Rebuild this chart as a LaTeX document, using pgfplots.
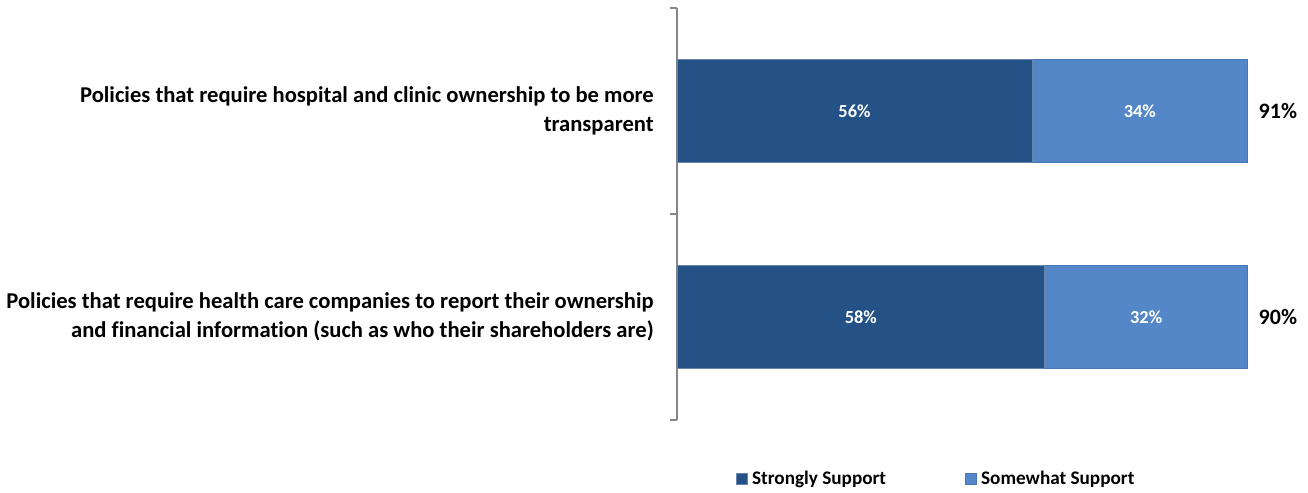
\documentclass[border=0pt]{standalone}
\usepackage{pgfplots}
\pgfplotsset{compat=1.18}
\usepackage{pgfplotstable}
\usepackage{fontspec}
\setmainfont{Carlito}[Ligatures=NoCommon]
\definecolor{darkblue}{RGB}{37,82,134}
\definecolor{lightblue}{RGB}{84,135,200}
\definecolor{axisgray}{RGB}{134,134,134}

\pgfplotstableread{
c v lab
0 58 58
1 56 56
}\strongly
\pgfplotstableread{
c v lab
0 32 32
1 34 34
}\somewhat
\pgfplotstableread{
c v lab
0 0.01 90
1 0.01 91
}\totals

\begin{document}
\begin{tikzpicture}[font=\bfseries]
\useasboundingbox (0,0) rectangle (654pt,246.5pt);
\begin{axis}[
  at={(338.5pt,36.5pt)}, anchor=south west,
  scale only axis, width=317pt, height=206pt,
  xbar stacked, bar width=0.5,
  xmin=0, xmax=100, enlarge x limits=false,
  ymin=-0.5, ymax=1.5,
  axis x line=none,
  axis y line=left,
  y axis line style={-, draw=axisgray, line width=0.6pt},
  xtick=\empty,
  ytick={0,1},
  yticklabels={{Policies that require health care companies to report their ownership\\and financial information (such as who their shareholders are)},
               {Policies that require hospital and clinic ownership to be more\\transparent}},
  yticklabel style={align=right, font=\bfseries\fontsize{11.3}{14.5}\selectfont, xshift=-6pt},
  ytick style={draw=none},
  extra y ticks={-0.5,0.5,1.5},
  extra y tick labels={},
  extra y tick style={tick align=outside, major tick length=3.5pt, ytick style={draw=axisgray, line width=0.6pt}},
  legend columns=2,
  legend style={at={(0.4105,-0.143)}, anchor=center, draw=none, fill=none,
    font=\bfseries\fontsize{9.6}{11}\selectfont,
    /tikz/every even column/.append style={column sep=37.5pt}},
  legend image code/.code={\draw[#1] (0pt,-2.8pt) rectangle (5.6pt,2.8pt);},
  point meta=explicit symbolic,
]
\addplot[fill=darkblue, draw=darkblue!70!white,
  nodes near coords={\pgfplotspointmeta\%},
  every node near coord/.append style={anchor=center, text=white,
     font=\bfseries\fontsize{9.2}{10}\selectfont}]
  table[x=v, y=c, meta=lab]{\strongly};
\addplot[fill=lightblue, draw=lightblue!70!darkblue,
  nodes near coords={\pgfplotspointmeta\%},
  every node near coord/.append style={anchor=center, text=white,
     font=\bfseries\fontsize{9.2}{10}\selectfont}]
  table[x=v, y=c, meta=lab]{\somewhat};
\addplot[draw=none, fill=none, forget plot,
  nodes near coords={\pgfplotspointmeta\%},
  every node near coord/.append style={anchor=west, text=black, xshift=2pt,
     font=\bfseries\fontsize{11}{12}\selectfont}]
  table[x=v, y=c, meta=lab]{\totals};
\legend{Strongly Support, Somewhat Support}
\end{axis}
\end{tikzpicture}
\end{document}
